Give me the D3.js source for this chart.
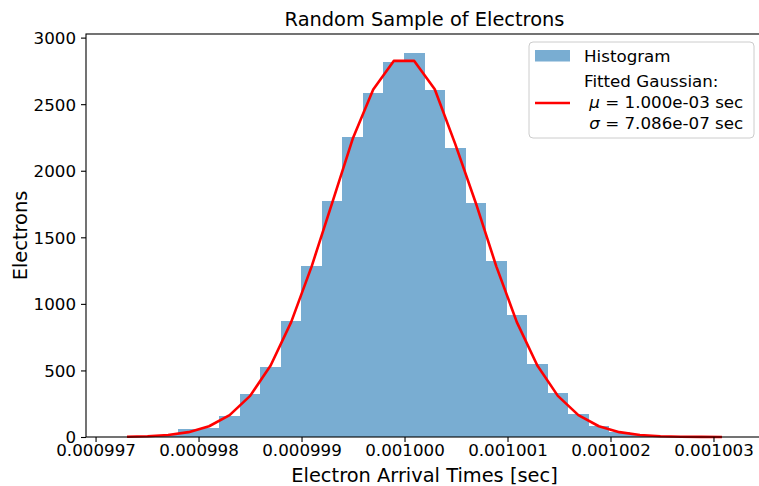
<!DOCTYPE html>
<html>
<head>
<meta charset="utf-8">
<script src="https://cdn.jsdelivr.net/npm/d3@7"></script>
<style>
  html, body { margin: 0; padding: 0; background: #fff; }
  svg { display: block; font-family: "DejaVu Sans", sans-serif; }
</style>
</head>
<body>
<svg id="chart" width="759" height="486"></svg>
<script>
// Histogram bin edges (seconds)
const binEdges = [
  0.0009972060, 0.0009974052, 0.0009976044, 0.0009978036, 0.0009980028,
  0.0009982020, 0.0009984012, 0.0009986004, 0.0009987996, 0.0009989988,
  0.0009991980, 0.0009993972, 0.0009995964, 0.0009997956, 0.0009999948,
  0.0010001940, 0.0010003932, 0.0010005924, 0.0010007916, 0.0010009908,
  0.0010011900, 0.0010013892, 0.0010015884, 0.0010017876, 0.0010019868,
  0.0010021860, 0.0010023852, 0.0010025844, 0.0010027836, 0.0010029828,
  0.0010031820
];

// Electron counts per bin
const binCounts = [
  3, 6, 15, 60, 68, 157, 322, 525, 870, 1282,
  1770, 2257, 2583, 2820, 2883, 2607, 2170, 1758, 1320, 920,
  550, 332, 170, 85, 35, 15, 6, 2, 1, 0
];

// Fitted Gaussian evaluated at each bin centre
const fitValues = [
  2.1, 5.9, 15.4, 36.6, 80.7, 164, 309, 537, 863, 1282,
  1758, 2240, 2610, 2825, 2825, 2612, 2200, 1758, 1282, 863,
  537, 309, 164, 80.7, 36.6, 15.4, 5.9, 2.1, 0.7, 0.2
];

const xTicks = [0.000997, 0.000998, 0.000999, 0.001000, 0.001001, 0.001002, 0.001003];
const xTickLabels = ["0.000997", "0.000998", "0.000999", "0.001000", "0.001001", "0.001002", "0.001003"];
const yTicks = [0, 500, 1000, 1500, 2000, 2500, 3000];

const legendLabels = ["Histogram", "Fitted Gaussian:"];
const fitMu = "1.000e-03";
const fitSigma = "7.086e-07";

// Plot area
const plotLeft = 86, plotRight = 763, plotTop = 34, plotBottom = 437;

const svg = d3.select("#chart");

const [xMin, xMax] = d3.extent(binEdges);
const xPad = (xMax - xMin) * 0.05;
const x = d3.scaleLinear().domain([xMin - xPad, xMax + xPad]).range([plotLeft, plotRight]);
const y = d3.scaleLinear().domain([0, d3.max(binCounts) * 1.05]).range([plotBottom, plotTop]);

// Histogram bars
const bins = binCounts.map((c, i) => ({ x0: binEdges[i], x1: binEdges[i + 1], count: c }));
svg.append("g")
  .selectAll("rect")
  .data(bins)
  .join("rect")
  .attr("x", d => x(d.x0))
  .attr("width", d => x(d.x1) - x(d.x0))
  .attr("y", d => y(d.count))
  .attr("height", d => y(0) - y(d.count))
  .attr("fill", "#1f77b4")
  .attr("fill-opacity", 0.6)
  .attr("shape-rendering", "crispEdges");

// Fitted curve through bin centres
const fitPoints = fitValues.map((v, i) => [(binEdges[i] + binEdges[i + 1]) / 2, v]);
svg.append("path")
  .datum(fitPoints)
  .attr("fill", "none")
  .attr("stroke", "#ff0000")
  .attr("stroke-width", 2.6)
  .attr("stroke-linejoin", "round")
  .attr("d", d3.line().x(d => x(d[0])).y(d => y(d[1])));

// Axes
const xAxis = d3.axisBottom(x)
  .tickValues(xTicks)
  .tickFormat((d, i) => xTickLabels[i])
  .tickSizeInner(5).tickSizeOuter(0).tickPadding(4);
const yAxis = d3.axisLeft(y)
  .tickValues(yTicks)
  .tickFormat(d3.format("d"))
  .tickSizeInner(5).tickSizeOuter(0).tickPadding(5);

const gx = svg.append("g").attr("transform", `translate(0,${plotBottom})`).call(xAxis);
const gy = svg.append("g").attr("transform", `translate(${plotLeft},0)`).call(yAxis);
[gx, gy].forEach(g => {
  g.select(".domain").remove();
  g.selectAll(".tick line").attr("stroke", "#000").attr("stroke-width", 1.1);
  g.selectAll(".tick text")
    .attr("fill", "#000")
    .style("font-family", "DejaVu Sans")
    .style("font-size", "16.7px");
});
gx.selectAll(".tick text").attr("dy", null).attr("y", 19);
gy.selectAll(".tick text").attr("dy", "0.35em");

// Frame (spines)
svg.append("rect")
  .attr("x", plotLeft).attr("y", plotTop)
  .attr("width", plotRight - plotLeft).attr("height", plotBottom - plotTop)
  .attr("fill", "none")
  .attr("stroke", "#000")
  .attr("stroke-width", 1.1);

// Title and axis labels
svg.append("text")
  .attr("x", (plotLeft + plotRight) / 2).attr("y", 26)
  .attr("text-anchor", "middle")
  .style("font-size", "19.4px")
  .text("Random Sample of Electrons");

svg.append("text")
  .attr("x", (plotLeft + plotRight) / 2).attr("y", 481.5)
  .attr("text-anchor", "middle")
  .style("font-size", "19.4px")
  .text("Electron Arrival Times [sec]");

svg.append("text")
  .attr("transform", `translate(26.5,${(plotTop + plotBottom) / 2}) rotate(-90)`)
  .attr("text-anchor", "middle")
  .style("font-size", "19.4px")
  .text("Electrons");

// Legend
const lg = svg.append("g");
lg.append("rect")
  .attr("x", 529).attr("y", 42)
  .attr("width", 225).attr("height", 96)
  .attr("rx", 4)
  .attr("fill", "#fff").attr("fill-opacity", 0.8)
  .attr("stroke", "#cccccc").attr("stroke-width", 1);
lg.append("rect")
  .attr("x", 535).attr("y", 50)
  .attr("width", 35).attr("height", 11.5)
  .attr("fill", "#1f77b4").attr("fill-opacity", 0.6);
lg.append("line")
  .attr("x1", 535).attr("x2", 570)
  .attr("y1", 103).attr("y2", 103)
  .attr("stroke", "#ff0000").attr("stroke-width", 2.6);

const legendFont = "16.7px";
lg.append("text").attr("x", 584).attr("y", 62).style("font-size", legendFont).text(legendLabels[0]);
lg.append("text").attr("x", 584).attr("y", 87).style("font-size", legendFont).text(legendLabels[1]);

const muLine = lg.append("text").attr("x", 584).attr("y", 108).style("font-size", legendFont).attr("xml:space", "preserve");
muLine.append("tspan").text(" ");
muLine.append("tspan").style("font-style", "italic").text("μ");
muLine.append("tspan").text(` = ${fitMu} sec`);

const sigLine = lg.append("text").attr("x", 584).attr("y", 129).style("font-size", legendFont).attr("xml:space", "preserve");
sigLine.append("tspan").text(" ");
sigLine.append("tspan").style("font-style", "italic").text("σ");
sigLine.append("tspan").text(` = ${fitSigma} sec`);
</script>
</body>
</html>
